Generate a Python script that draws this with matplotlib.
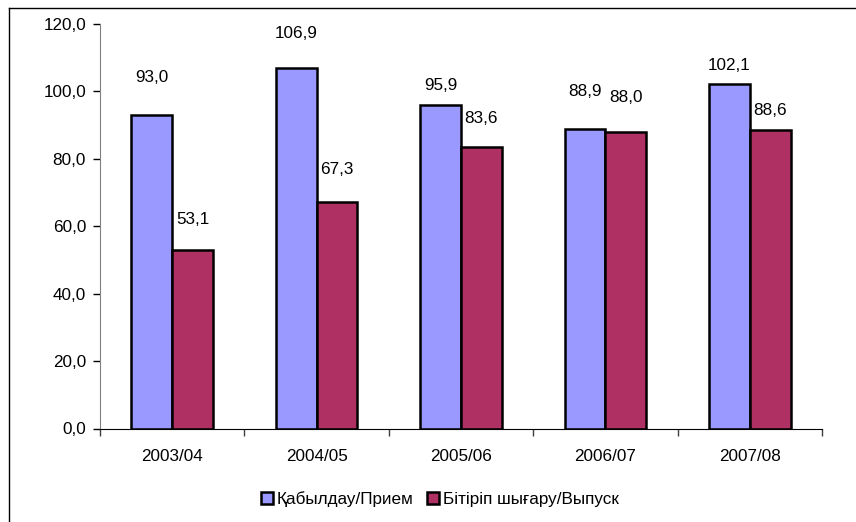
import numpy as np
import matplotlib.pyplot as plt
from matplotlib.lines import Line2D

plt.rcParams["font.family"] = ["Liberation Sans", "DejaVu Sans"]

years = ["2003/04", "2004/05", "2005/06", "2006/07", "2007/08"]
priem = [93.0, 106.9, 95.9, 88.9, 102.1]
vypusk = [53.1, 67.3, 83.6, 88.0, 88.6]
series_names = ["Қабылдау/Прием", "Бітіріп шығару/Выпуск"]

# label gaps above the bars (pixels), placed by hand in the original
gap_priem = [38, 35, 20, 37, 19]
gap_vypusk = [30, 32, 28, 34, 19]

col_blue = "#9999FF"
col_red = "#AF3163"
fs = 12.3

fig = plt.figure(figsize=(8.56, 5.22), dpi=100)
ax = fig.add_axes([100 / 856, 1 - 428.5 / 522, 722 / 856, 404.5 / 522])

x = np.arange(len(years))
w = 0.283
b1 = ax.bar(x - w / 2, priem, w, color=col_blue, edgecolor="black", linewidth=1.8)
b2 = ax.bar(x + w / 2, vypusk, w, color=col_red, edgecolor="black", linewidth=1.8)

for bars, vals, gaps in [(b1, priem, gap_priem), (b2, vypusk, gap_vypusk)]:
    for rect, v, g in zip(bars, vals, gaps):
        ax.annotate(f"{v:.1f}".replace(".", ","),
                    (rect.get_x() + rect.get_width() / 2, v),
                    xytext=(0, g * 0.72), textcoords="offset points",
                    ha="center", va="center", fontsize=fs)

ax.set_xlim(-0.5, len(years) - 0.5)
ax.set_ylim(0, 120)
ax.set_yticks(np.arange(0, 121, 20))
ax.set_yticklabels([f"{t:.1f}".replace(".", ",") for t in np.arange(0, 121, 20)])
ax.set_xticks(x)
ax.set_xticklabels(years)
ax.set_xticks(np.arange(-0.5, len(years)), minor=True)
ax.tick_params(axis="x", which="major", length=0, pad=15, labelsize=fs)
ax.tick_params(axis="x", which="minor", length=5, width=1, color="#404040")
ax.tick_params(axis="y", length=5, width=1, pad=5, labelsize=fs)

for s in ["top", "right"]:
    ax.spines[s].set_visible(False)
ax.spines["left"].set_color("#808080")
ax.spines["bottom"].set_color("black")

handles = [
    Line2D([], [], marker="s", linestyle="none", markersize=8,
           markerfacecolor=col_blue, markeredgecolor="black", markeredgewidth=1.8),
    Line2D([], [], marker="s", linestyle="none", markersize=8,
           markerfacecolor=col_red, markeredgecolor="black", markeredgewidth=1.8),
]
fig.legend(handles, series_names, loc="center", bbox_to_anchor=(440 / 856, 1 - 499 / 522),
           ncol=2, frameon=False, fontsize=fs, handlelength=0.7, handletextpad=0.2,
           columnspacing=0.8)

# outer chart frame (left and top edges visible)
fig.add_artist(Line2D([8.5 / 856, 8.5 / 856], [0, 1 - 7.5 / 522], color="black", lw=1))
fig.add_artist(Line2D([8.5 / 856, 1], [1 - 7.5 / 522, 1 - 7.5 / 522], color="black", lw=1))

fig.savefig("out.png", dpi=100)
